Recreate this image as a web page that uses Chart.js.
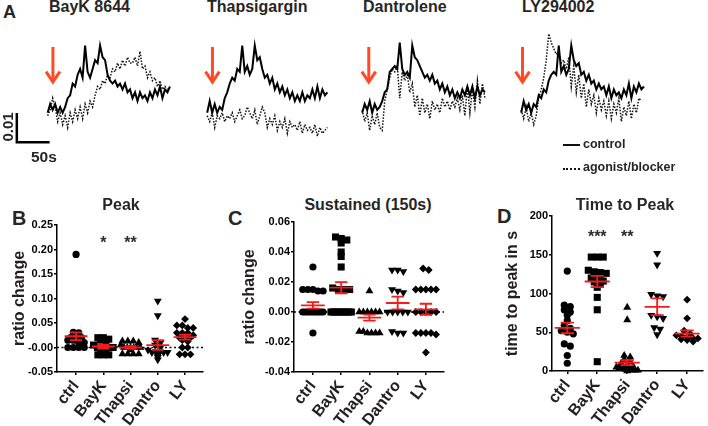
<!DOCTYPE html>
<html>
<head>
<meta charset="utf-8">
<script src="https://cdn.jsdelivr.net/npm/chart.js@4.4.1/dist/chart.umd.min.js"></script>
<style>
  body { margin: 0; background: #fff; }
  #fig { position: relative; width: 708px; height: 426px; overflow: hidden;
         font-family: "Liberation Sans", Arial, sans-serif; font-weight: bold; color: #262626; }
  #fig canvas { position: absolute; }
  .t { position: absolute; white-space: nowrap; line-height: 1; }
  .c { transform: translateX(-50%); }
</style>
</head>
<body>
<div id="fig">
  <div class="t" style="left:3px;top:3px;font-size:18px">A</div>
  <div class="t" style="left:49px;top:-1px;font-size:16px">BayK 8644</div>
  <div class="t" style="left:207px;top:-1px;font-size:16px">Thapsigargin</div>
  <div class="t" style="left:363px;top:-1px;font-size:16px">Dantrolene</div>
  <div class="t" style="left:522px;top:-1px;font-size:16px">LY294002</div>

  <canvas id="tr0"></canvas>
  <canvas id="tr1"></canvas>
  <canvas id="tr2"></canvas>
  <canvas id="tr3"></canvas>

  <div class="t" style="left:7px;top:127px;font-size:15px;transform:translate(-50%,-50%) rotate(-90deg)">0.01</div>
  <div class="t" style="left:31px;top:149px;font-size:15.5px">50s</div>

  <div class="t" style="left:563px;top:144px;width:17px;border-top:2px solid #111"></div>
  <div class="t" style="left:583px;top:138px;font-size:12.5px">control</div>
  <div class="t" style="left:563px;top:168px;width:17px;border-top:2px dotted #111"></div>
  <div class="t" style="left:583px;top:161px;font-size:12.5px">agonist/blocker</div>

  <div class="t" style="left:12px;top:208px;font-size:20px">B</div>
  <div class="t c" style="left:121px;top:197px;font-size:16px">Peak</div>
  <div class="t" style="left:228px;top:208px;font-size:20px">C</div>
  <div class="t c" style="left:368px;top:197px;font-size:16px">Sustained (150s)</div>
  <div class="t" style="left:497px;top:206px;font-size:20px">D</div>
  <div class="t c" style="left:625px;top:197px;font-size:16px">Time to Peak</div>

  <canvas id="peak" width="236" height="236" style="left:0;top:190px"></canvas>
  <canvas id="sust" width="236" height="236" style="left:236px;top:190px"></canvas>
  <canvas id="ttp" width="236" height="236" style="left:472px;top:190px"></canvas>
</div>

<script>
// ===== Panel A: example traces, ratio change in units of 0.001, one sample every T_STEP s =====
const T_STEP = 3.8;

const bayControl = [6, 9, 7, 9, 6, 8, 6, 8, 11, 12, 16, 15, 19, 21, 18, 29, 20, 18, 21, 24,
  23, 29, 25, 24, 19, 17, 16, 17, 15, 16, 14, 16, 13, 14, 11, 13, 10, 13, 11, 12,
  10, 13, 11, 14, 12, 15, 11, 14, 13, 15];
const bayAgonist = [5, 7, 11, 8, 3, 6, 2, 5, 1, 6, 3, 7, 4, 8, 4, 9, 6, 10, 8, 12,
  15, 14, 17, 16, 19, 18, 21, 20, 23, 21, 24, 22, 25, 23, 23, 25, 22, 27, 21, 22,
  18, 20, 17, 18, 15, 17, 14, 15, 14, null];

const thapControl = [6, 10, 6, 9, 6, 8, 7, 11, 13, 16, 18, 17, 21, 20, 29, 20, 22, 19, 21, 29,
  24, 25, 21, 18, 19, 16, 18, 14, 16, 13, 15, 12, 14, 11, 13, 10, 12, 10, 13, 10,
  12, 11, 14, 11, 15, 11, 14, 12, 13, null];
const thapBlocker = [5, 3, 6, 1, 5, 4, 6, 3, 5, 4, 6, 3, 5, 7, 4, 5, 8, 6, 4, 7,
  2, 5, 8, 6, 1, 4, 2, 5, 0, 3, 1, 4, -1, 3, 1, 2, 0, 3, -1, 2,
  0, 1, -1, 2, -2, 1, -1, 0, 1, null];

const dantControl = [6, 9, 7, 10, 6, 9, 7, 8, 10, 13, 14, 20, 21, 22, 21, 30, 21, 19, 20, 18,
  29, 25, 24, 22, 20, 18, 19, 17, 19, 16, 17, 14, 16, 13, 15, 12, 14, 11, 13, 11,
  14, 12, 15, 12, 15, 11, 15, 12, 14, 13];
const dantBlocker = [7, 3, 6, 0, 5, 2, 6, 1, 0, 10, 14, 18, 21, 20, 22, 11, 20, 17, 19, 13,
  16, 8, 12, 5, 11, 6, 9, 4, 10, 7, 9, 6, 11, 8, 10, 7, 10, 8, 11, 7,
  12, 5, 15, 6, 14, 8, 17, 9, 16, 11];

const lyControl = [6, 10, 7, 9, 6, 9, 8, 12, 11, 14, 13, 17, 19, 20, 19, 29, 20, 22, 19, 21,
  29, 24, 22, 23, 19, 20, 17, 19, 16, 17, 14, 16, 14, 15, 12, 15, 11, 14, 12, 13,
  11, 14, 12, 16, 11, 15, 13, 16, 14, 15];
const lyBlocker = [7, 4, 8, 3, 6, 2, 5, 11, 14, 18, 24, 33, 30, 28, 26, 27, 23, 24, 21, 25,
  15, 22, 13, 19, 11, 16, 8, 14, 9, 12, 6, 11, 7, 10, 5, 10, 4, 9, 6, 11,
  3, 8, 5, 10, 4, 9, 6, 11, 10, null];

const traceControl = [bayControl, thapControl, dantControl, lyControl];
const traceBlocker = [bayAgonist, thapBlocker, dantBlocker, lyBlocker];
const arrowTimes = [8, 8, 10, 2];          // s, drug application
const ARROW_TOP = 28.5, ARROW_TIP = 16.5;  // x 0.001
const BAR_SEC = 50, BAR_RATIO = 10;        // scale bar: 50 s and 0.01
const BAR_T0 = -47, BAR_R0 = -4.1;

// ===== Panels B-D: single cells, mean +/- SEM =====
const groups = ['ctrl', 'BayK', 'Thapsi', 'Dantro', 'LY'];

const peakValues = [
  [0.19, 0.031, 0.03, 0.025, 0.02, 0.02, 0.02, 0.015, 0.015, 0.01, 0.01, 0, 0, 0, 0],
  [0.02, 0.02, 0.017, 0.015, 0.01, 0.005, 0, 0, 0, 0, 0, -0.005, -0.01, -0.015, -0.015, -0.015],
  [0.013, 0.013, 0.013, 0.01, 0.005, 0, 0, 0, 0, 0, 0, -0.005, -0.013, -0.013, -0.013, -0.013],
  [0.095, 0.065, 0.015, 0.01, 0.005, 0, -0.005, -0.01, -0.01, -0.01, -0.01, -0.01, -0.015, -0.02, -0.025],
  [0.058, 0.045, 0.045, 0.04, 0.04, 0.03, 0.03, 0.03, 0.025, 0.02, 0.02, 0.02, 0.015, 0.012, 0, 0, -0.014, -0.014, -0.014]
];
const peakMean = [0.023, 0.002, 0.0, 0.005, 0.021];
const peakSem = [0.008, 0.004, 0.003, 0.01, 0.005];
const peakStars = ['', '*', '**', '', ''];

const sustValues = [
  [0.03, 0.015, 0.015, 0.015, 0.014, 0.014, 0, 0, 0, 0, 0, 0, 0, 0, 0, 0, -0.014],
  [0.05, 0.049, 0.048, 0.046, 0.04, 0.037, 0.03, 0.016, 0.015, 0.015, 0.015, 0, 0, 0, 0, 0, 0, 0, 0, 0],
  [0.014, 0, 0, 0, 0, 0, 0, -0.013, -0.013, -0.014, -0.014, -0.014, -0.014],
  [0.028, 0.028, 0.027, 0.015, 0.014, 0.013, 0, 0, 0, 0, 0, -0.014, -0.014, -0.013],
  [0.029, 0.028, 0.015, 0.015, 0.015, 0.015, 0.015, 0, 0, 0, 0, 0, -0.014, -0.014, -0.015, -0.014, -0.014, -0.027]
];
const sustMean = [0.0044, 0.0162, -0.0038, 0.006, 0.0018];
const sustSem = [0.0022, 0.0037, 0.002, 0.0042, 0.0037];

const ttpValues = [
  [129, 85, 83, 79, 76, 72, 65, 59, 55, 52, 50, 48, 35, 32, 20, 10],
  [147, 147, 147, 130, 128, 127, 126, 125, 124, 120, 118, 116, 115, 112, 108, 95, 79, 12],
  [82, 66, 20, 18, 15, 12, 10, 8, 6, 5, 4, 3, 2, 2, 1, 1, 1, 0],
  [152, 137, 99, 97, 96, 72, 70, 68, 56, 54, 47],
  [92, 68, 52, 48, 46, 45, 44, 43, 42, 41, 40, 38]
];
const ttpMean = [55.6, 115.5, 10.8, 82.8, 48.3];
const ttpSem = [6.9, 7.3, 3.2, 10.8, 4];
const ttpStars = ['', '***', '**', '', ''];

// ---------------------------------------------------------------
const FONT = '"Liberation Sans", Arial, sans-serif';
const ORANGE = '#ff4a26';
const RED = '#f21c1c';
Chart.defaults.font.family = FONT;

const PX_PER_S = 2.5 / T_STEP;
const TRACE_X0 = [48, 207, 362, 521];   // page x where t = 0

function toPoints(arr) {
  return arr.map((v, i) => ({ x: i * T_STEP, y: v }));
}

function drawTrace(k) {
  const tMin = k === 0 ? -65 : -20, tMax = 200;
  const cv = document.getElementById('tr' + k);
  cv.width = Math.round((tMax - tMin) * PX_PER_S);
  cv.height = 117;
  cv.style.left = (TRACE_X0[k] + tMin * PX_PER_S) + 'px';
  cv.style.top = '28px';
  const t = arrowTimes[k];
  const ds = [
    { data: [{ x: t, y: ARROW_TOP }, { x: t, y: ARROW_TIP + 0.6 }], borderColor: ORANGE, borderWidth: 3 },
    { data: [{ x: t - 10.5, y: ARROW_TIP + 3.6 }, { x: t, y: ARROW_TIP }, { x: t + 10.5, y: ARROW_TIP + 3.6 }],
      borderColor: ORANGE, borderWidth: 3 },
    { data: toPoints(traceControl[k]), borderColor: '#000', borderWidth: 2 },
    { data: toPoints(traceBlocker[k]), borderColor: '#111', borderWidth: 1.5, borderDash: [1.5, 1.5] }
  ];
  if (k === 0) {
    ds.push({ data: [{ x: BAR_T0, y: BAR_R0 + BAR_RATIO }, { x: BAR_T0, y: BAR_R0 }, { x: BAR_T0 + BAR_SEC, y: BAR_R0 }],
      borderColor: '#000', borderWidth: 2.5 });
  }
  ds.forEach(d => Object.assign(d, { showLine: true, pointRadius: 0, fill: false, tension: 0,
    clip: false, spanGaps: false, borderJoinStyle: 'miter' }));
  new Chart(cv, {
    type: 'scatter',
    data: { datasets: ds },
    options: {
      responsive: false, animation: false, events: [],
      layout: { padding: 0 },
      plugins: { legend: { display: false }, tooltip: { enabled: false } },
      scales: {
        x: { type: 'linear', display: false, min: tMin, max: tMax },
        y: { type: 'linear', display: false, min: -5, max: 35 }
      }
    }
  });
}

// asterisks above groups
const starPlugin = {
  id: 'stars',
  afterDatasetsDraw(chart, args, opts) {
    const { ctx, scales: { x, y } } = chart;
    ctx.save();
    ctx.font = 'bold 16px ' + FONT;
    ctx.fillStyle = '#2b2b2b';
    ctx.textAlign = 'center';
    (opts.items || []).forEach(s => {
      if (s.text) ctx.fillText(s.text, x.getPixelForValue(s.x), y.getPixelForValue(s.y) + 9);
    });
    ctx.restore();
  }
};

// spread points of (nearly) equal value side by side, like a column scatter
function spread(vals, tol, step, maxW) {
  const idx = vals.map((v, i) => i).sort((a, b) => vals[b] - vals[a]);
  const off = new Array(vals.length).fill(0);
  let g = [];
  const flush = () => {
    const st = g.length > 1 ? Math.min(step, maxW / (g.length - 1)) : 0;
    g.forEach((k, j) => { off[k] = (j - (g.length - 1) / 2) * st; });
    g = [];
  };
  idx.forEach(k => {
    if (g.length && Math.abs(vals[g[0]] - vals[k]) > tol) flush();
    g.push(k);
  });
  flush();
  return off;
}

const STYLES = ['circle', 'rect', 'triangle', 'triangle', 'rectRot'];
const ROTS = [0, 0, 0, 180, 0];
const RADII = [3.6, 5, 4.6, 4.6, 3.9];

function dotChart(id, values, means, sems, stars, o) {
  const red = [];
  means.forEach((m, i) => {
    const s = sems[i];
    red.push({ x: i - 0.42, y: m }, { x: i + 0.42, y: m }, { x: i, y: null },
      { x: i, y: m - s }, { x: i, y: m + s }, { x: i, y: null },
      { x: i - 0.22, y: m + s }, { x: i + 0.22, y: m + s }, { x: i, y: null },
      { x: i - 0.22, y: m - s }, { x: i + 0.22, y: m - s }, { x: i, y: null });
  });
  const ds = [{ data: red, showLine: true, borderColor: RED, borderWidth: 1.8, pointRadius: 0, spanGaps: false, clip: false }];
  values.forEach((vals, i) => {
    const off = spread(vals, o.tol, 0.2, 0.72);
    ds.push({
      data: vals.map((v, k) => ({ x: i + off[k], y: v })),
      pointStyle: STYLES[i], rotation: ROTS[i], pointRadius: RADII[i],
      backgroundColor: '#000', borderColor: '#000', borderWidth: 0, clip: false
    });
  });
  if (o.zero) {
    ds.push({ data: [{ x: o.xMin, y: 0 }, { x: o.xMax, y: 0 }], showLine: true, borderColor: '#000',
      borderWidth: 1.3, borderDash: [2, 2.5], pointRadius: 0 });
  }
  const axisGrid = { display: true, drawOnChartArea: false, drawTicks: true, tickLength: 3, color: '#000', lineWidth: 1.5 };
  const axisBorder = { display: true, color: '#000', width: 1.5 };
  new Chart(document.getElementById(id), {
    type: 'scatter',
    data: { datasets: ds },
    plugins: [starPlugin],
    options: {
      responsive: false, animation: false, events: [],
      layout: { padding: { top: o.padTop, right: o.padRight, left: 0, bottom: 0 } },
      plugins: {
        legend: { display: false }, tooltip: { enabled: false },
        stars: { items: stars.map((s, i) => ({ x: i, y: o.starY, text: s })) }
      },
      scales: {
        x: {
          type: 'linear', min: o.xMin, max: o.xMax,
          afterBuildTicks: s => { s.ticks = groups.map((g, i) => ({ value: i })); },
          afterFit: s => { s.height = o.xHeight; },
          ticks: { callback: v => groups[v], minRotation: 52, maxRotation: 52, autoSkip: false, padding: 2,
            color: '#231f20', font: { size: 16, weight: 'bold' } },
          grid: axisGrid, border: axisBorder
        },
        y: {
          type: 'linear', min: o.yMin, max: o.yMax,
          afterFit: s => { s.width = o.yWidth; },
          ticks: { stepSize: o.step, callback: v => v.toFixed(o.dec), padding: 1, color: '#000',
            font: { size: 11, weight: 'bold' } },
          grid: axisGrid, border: axisBorder,
          title: { display: true, text: o.title, color: '#231f20', font: { size: 16, weight: 'bold' },
            padding: { top: o.titlePad, bottom: 0 } }
        }
      }
    }
  });
}

[0, 1, 2, 3].forEach(drawTrace);

dotChart('peak', peakValues, peakMean, peakSem, peakStars, {
  xMin: -0.7, xMax: 4.66, yMin: -0.05, yMax: 0.25, step: 0.05, dec: 2, title: 'ratio change',
  yWidth: 57, padTop: 35, padRight: 33, xHeight: 54, titlePad: 10, tol: 0.005, zero: true, starY: 0.222
});
dotChart('sust', sustValues, sustMean, sustSem, ['', '', '', '', ''], {
  xMin: -0.67, xMax: 4.64, yMin: -0.04, yMax: 0.06, step: 0.02, dec: 2, title: 'ratio change',
  yWidth: 58, padTop: 32, padRight: 28, xHeight: 54, titlePad: 4, tol: 0.003, zero: true, starY: 0
});
dotChart('ttp', ttpValues, ttpMean, ttpSem, ttpStars, {
  xMin: -0.51, xMax: 4.53, yMin: 0, yMax: 200, step: 50, dec: 0, title: 'time to peak in s',
  yWidth: 80, padTop: 26, padRight: 5, xHeight: 55, titlePad: 31, tol: 4, zero: false, starY: 178
});
</script>
</body>
</html>
